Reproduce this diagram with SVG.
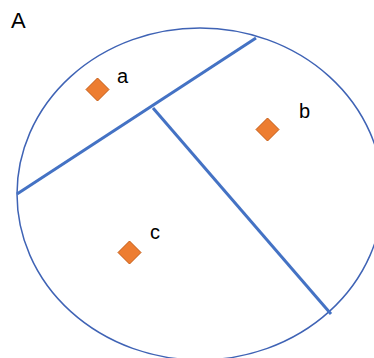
<svg xmlns="http://www.w3.org/2000/svg" width="374" height="358" viewBox="0 0 374 358">
<style>
.lbl{font-family:"Liberation Sans",Arial,sans-serif;font-size:20px;fill:#000}
.dia{fill:#ED7D31;stroke:#C55A11;stroke-width:1}
.cut{stroke:#4472C4;stroke-width:3;fill:none;stroke-linecap:butt}
</style>
<rect width="374" height="358" fill="#fff"/>
<text class="lbl" x="11" y="28" style="font-size:22px">A</text>
<g id="region">
<ellipse cx="200" cy="194" rx="183" ry="166" fill="none" stroke="#3F63B5" stroke-width="1.5"/>
</g>
<g id="connectors">
<line class="cut" x1="17" y1="194" x2="256" y2="38"/>
<line class="cut" x1="153" y1="108" x2="331" y2="314"/>
</g>
<g id="node-a">
<path class="dia" d="M97.5 78 L109 89.5 L97.5 101 L86 89.5 Z"/>
<text class="lbl" x="117" y="83">a</text>
</g>
<g id="node-b">
<path class="dia" d="M267.5 118 L279 129.5 L267.5 141 L256 129.5 Z"/>
<text class="lbl" x="299" y="118">b</text>
</g>
<g id="node-c">
<path class="dia" d="M129.5 241 L141 252.5 L129.5 264 L118 252.5 Z"/>
<text class="lbl" x="150" y="239">c</text>
</g>
</svg>
